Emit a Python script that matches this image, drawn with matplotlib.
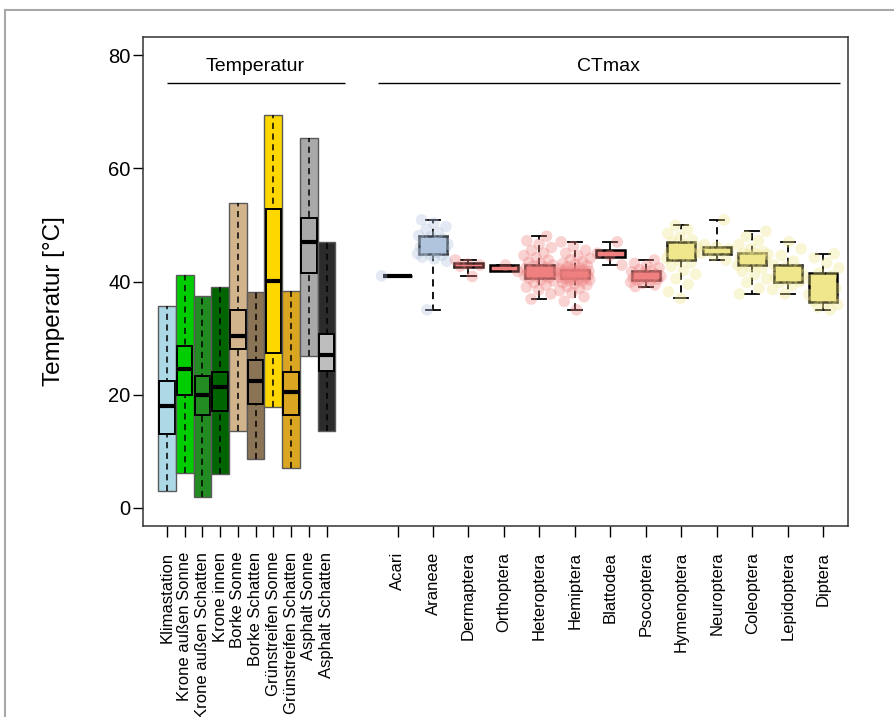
import matplotlib
matplotlib.use("Agg")
import matplotlib.pyplot as plt
from matplotlib.lines import Line2D
import numpy as np

plt.rcParams['font.family'] = ['Liberation Sans', 'DejaVu Sans']

# ---------------- data ----------------
temp_labels = ["Klimastation", "Krone außen Sonne", "Krone außen Schatten", "Krone innen",
               "Borke Sonne", "Borke Schatten", "Grünstreifen Sonne", "Grünstreifen Schatten",
               "Asphalt Sonne", "Asphalt Schatten"]
t_min = [3.0, 6.2, 2.0, 5.9, 13.6, 8.6, 17.8, 7.1, 26.9, 13.6]
t_max = [35.6, 41.2, 37.5, 39.0, 53.8, 38.1, 69.4, 38.3, 65.4, 47.0]
t_q1 = [13.0, 19.9, 16.4, 17.1, 28.1, 18.4, 27.4, 16.4, 41.5, 24.1]
t_q3 = [22.4, 28.6, 23.3, 24.0, 34.9, 26.2, 52.8, 24.0, 51.2, 30.8]
t_med = [18.0, 24.6, 19.9, 21.3, 30.4, 22.4, 40.1, 20.5, 46.9, 27.0]
t_colors = ['#ADD8E6', '#00CD00', '#228B22', '#006400', '#D2B48C', '#8B7355',
            '#FFD700', '#DAA520', '#A9A9A9', '#2B2B2B']
t_inner_colors = ['#ADD8E6', '#00CD00', '#228B22', '#006400', '#D2B48C', '#8B7355',
                  '#FFD700', '#DAA520', '#A9A9A9', '#BEBEBE']

ct_labels = ["Acari", "Araneae", "Dermaptera", "Orthoptera", "Heteroptera", "Hemiptera",
             "Blattodea", "Psocoptera", "Hymenoptera", "Neuroptera", "Coleoptera",
             "Lepidoptera", "Diptera"]
ct_lo = [41.0, 35.0, 40.9, 41.8, 36.9, 35.0, 42.9, 39.1, 37.0, 43.8, 37.8, 37.8, 35.0]
ct_q1 = [41.0, 44.8, 42.6, 41.8, 40.6, 40.6, 44.3, 40.2, 43.8, 44.9, 42.9, 40.0, 36.4]
ct_med = [41.0, 46.2, 42.9, 42.4, 41.6, 41.4, 44.9, 40.9, 44.9, 45.5, 44.5, 41.1, 37.9]
ct_q3 = [41.0, 48.1, 43.2, 42.9, 42.9, 42.0, 45.5, 41.9, 47.0, 46.1, 45.0, 42.9, 41.5]
ct_hi = [41.0, 50.9, 43.8, 42.9, 48.0, 47.0, 47.0, 43.8, 49.9, 50.9, 48.9, 47.0, 44.9]
ct_colors = ['#B0C4DE', '#B0C4DE', '#F08080', '#F08080', '#F08080', '#F08080', '#F08080',
             '#F08080', '#F0E68C', '#F0E68C', '#F0E68C', '#F0E68C', '#F0E68C']

acari = [41.0]
araneae = [35.0, 43.6, 44.0, 44.3, 44.6, 44.8, 44.9, 45.2, 45.5, 45.8, 46.0, 46.1, 46.2,
           46.3, 46.6, 46.9, 47.2, 47.5, 47.9, 48.1, 48.6, 49.2, 49.7, 50.3, 50.9]
dermaptera = [40.9, 42.7, 42.9, 43.1, 43.8]
orthoptera = [41.8, 42.9]
heteroptera = [36.9, 37.8, 38.5, 39.0, 39.4, 39.8, 40.1, 40.3, 40.6, 40.7, 40.9, 41.0, 41.1,
               41.2, 41.3, 41.4, 41.5, 41.6, 41.6, 41.7, 41.8, 41.9, 42.0, 42.1, 42.3, 42.5,
               42.7, 42.9, 43.1, 43.4, 43.8, 44.2, 44.6, 45.0, 45.5, 46.0, 46.6, 47.2, 48.0]
hemiptera = [35.0, 36.5, 37.3, 38.0, 38.4, 38.8, 39.1, 39.4, 39.6, 39.8, 40.0, 40.2, 40.3,
             40.4, 40.5, 40.6, 40.6, 40.7, 40.8, 40.9, 41.0, 41.0, 41.1, 41.2, 41.2, 41.3,
             41.4, 41.4, 41.5, 41.5, 41.6, 41.7, 41.7, 41.8, 41.9, 42.0, 42.0, 42.1, 42.2,
             42.4, 42.6, 42.8, 43.0, 43.2, 43.5, 43.8, 44.1, 44.5, 45.0, 45.5, 46.2, 47.0]
blattodea = [42.9, 44.6, 45.0, 47.0]
psocoptera = [39.1, 39.4, 39.7, 39.9, 40.1, 40.2, 40.4, 40.5, 40.6, 40.8, 40.9, 40.9, 41.0,
              41.1, 41.3, 41.5, 41.7, 41.9, 42.1, 42.4, 42.8, 43.2, 43.8]
hymenoptera = [37.0, 38.2, 39.5, 40.5, 41.3, 42.0, 42.7, 43.3, 43.8, 44.1, 44.4, 44.7, 44.9,
               45.0, 45.2, 45.5, 45.8, 46.1, 46.5, 47.0, 47.4, 47.9, 48.5, 49.2, 49.9]
neuroptera = [43.8, 44.6, 45.0, 45.3, 45.5, 45.7, 46.1, 46.5, 50.9]
coleoptera = [37.8, 38.8, 39.8, 40.5, 41.2, 41.8, 42.3, 42.7, 42.9, 43.2, 43.6, 43.9, 44.2,
              44.4, 44.5, 44.7, 44.8, 44.9, 45.0, 45.3, 45.8, 46.5, 47.2, 48.0, 48.9]
lepidoptera = [37.8, 38.6, 39.3, 39.8, 40.0, 40.4, 40.7, 40.9, 41.1, 41.2, 41.5, 41.8, 42.2,
               42.6, 42.9, 43.6, 44.6, 45.8, 47.0]
diptera = [35.0, 35.5, 35.9, 36.3, 36.6, 37.0, 37.4, 37.7, 37.9, 38.2, 38.8, 39.5, 40.3,
           41.0, 41.5, 42.4, 43.3, 44.2, 44.9]
ct_points = [acari, araneae, dermaptera, orthoptera, heteroptera, hemiptera, blattodea,
             psocoptera, hymenoptera, neuroptera, coleoptera, lepidoptera, diptera]

# ---------------- figure ----------------
fig = plt.figure(figsize=(8.95, 7.17), dpi=100)
ax = fig.add_axes([143 / 895, 1 - 526 / 717, 705 / 895, 489 / 717])

# frame of the screenshot
fig.add_artist(Line2D([5 / 895, 1.0], [1 - 10 / 717] * 2, transform=fig.transFigure,
                      color='#a8a8a8', lw=1.5))
fig.add_artist(Line2D([5 / 895] * 2, [0, 1 - 10 / 717], transform=fig.transFigure,
                      color='#a8a8a8', lw=1.5))

t_pos = np.arange(1, len(temp_labels) + 1)
ct_pos = np.arange(14, 14 + 2 * len(ct_labels), 2)

# temperature range boxes
for i, x in enumerate(t_pos):
    z = 2 + i * 0.1
    ax.bar(x, t_max[i] - t_min[i], bottom=t_min[i], width=1.0, color=t_colors[i],
           edgecolor='#5a5a5a', linewidth=1.0, zorder=z)
    ax.vlines(x, t_min[i], t_max[i], colors='black', linestyles=(0, (4, 3)),
              linewidth=1.1, zorder=z + 0.01)
    ax.bar(x, t_q3[i] - t_q1[i], bottom=t_q1[i], width=0.88, color=t_inner_colors[i],
           edgecolor='black', linewidth=1.4, zorder=z + 0.02)
    ax.hlines(t_med[i], x - 0.44, x + 0.44, colors='black', linewidth=3, zorder=z + 0.03)

# CTmax boxplots
stats = []
for i in range(len(ct_labels)):
    stats.append(dict(med=ct_med[i], q1=ct_q1[i], q3=ct_q3[i], whislo=ct_lo[i],
                      whishi=ct_hi[i], fliers=[]))
bp = ax.bxp(stats, positions=ct_pos, widths=1.6, patch_artist=True, showfliers=False,
            manage_ticks=False,
            boxprops=dict(edgecolor='black', linewidth=1.8),
            medianprops=dict(color='black', linewidth=3),
            whiskerprops=dict(color='black', linestyle=(0, (4, 3)), linewidth=1.3),
            capprops=dict(color='black', linewidth=1.3), capwidths=0.8)
for patch, c in zip(bp['boxes'], ct_colors):
    patch.set_facecolor(c)
    patch.set_zorder(3)

golden = 0.6180339887
for i, pts in enumerate(ct_points):
    n = len(pts)
    offs = np.array([((k * golden + 0.31 * i) % 1.0) - 0.5 for k in range(n)]) * 1.8
    ax.scatter(ct_pos[i] + offs, pts, s=70, color=ct_colors[i], alpha=0.35,
               edgecolors='none', zorder=4)

# group headers
ax.hlines(75.1, 1.0, 11.04, colors='black', linewidth=1.0)
ax.text(6.0, 78.0, "Temperatur", ha='center', va='center', fontsize=14)
ax.hlines(75.1, 12.9, 38.96, colors='black', linewidth=1.0)
ax.text(25.9, 78.0, "CTmax", ha='center', va='center', fontsize=14)

# axes
ax.set_xlim(-0.35, 39.4)
ax.set_ylim(-3.2, 83.2)
ax.set_yticks([0, 20, 40, 60, 80])
ax.set_xticks(list(t_pos) + list(ct_pos))
ax.set_xticklabels(temp_labels + ct_labels, rotation=90, va='top', ha='center')
ax.tick_params(axis='y', length=7, width=1, labelsize=14.5, pad=2)
ax.tick_params(axis='x', length=8, width=1, labelsize=12, pad=10.5)
for sp in ax.spines.values():
    sp.set_linewidth(1.1)
    sp.set_color('#333333')
ax.set_ylabel("Temperatur [°C]", fontsize=17.5)
ax.yaxis.set_label_coords(-0.111, 0.46)

fig.savefig("out.png", dpi=100)
